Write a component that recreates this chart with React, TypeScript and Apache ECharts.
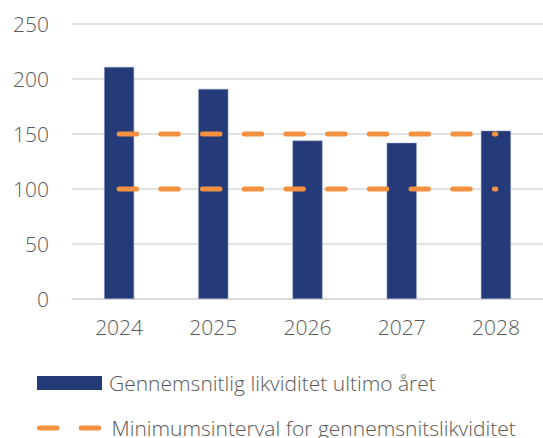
import React, { useEffect, useRef } from "react";
import * as echarts from "echarts";

const categories = ["2024", "2025", "2026", "2027", "2028"];
const barValues = [211, 191, 144, 142, 153];
const upperMinimum = [150, 150, 150, 150, 150];
const lowerMinimum = [100, 100, 100, 100, 100];
const barName = "Gennemsnitlig likviditet ultimo året";
const lineName = "Minimumsinterval for gennemsnitslikviditet";

const FONT = "'Open Sans', sans-serif";
const TEXT_COLOR = "#595959";
const BAR_COLOR = "#253A78";
const LINE_COLOR = "#F39141";

export default function App() {
  const ref = useRef<HTMLDivElement>(null);
  useEffect(() => {
    if (!ref.current) return;
    const chart = echarts.init(ref.current, undefined, { renderer: "svg" });
    const lineStyle = {
      color: LINE_COLOR,
      width: 5,
      type: [17.5, 24.2] as any,
      cap: "round" as const,
    };
    const legendText = {
      fontFamily: FONT,
      fontSize: 21,
      fontWeight: 300,
      color: TEXT_COLOR,
      lineHeight: 24,
      padding: [0, 0, 0, 2],
    };
    chart.setOption({
      animation: false,
      grid: { left: 72, right: -3.5, top: 24, bottom: 139, containLabel: false },
      legend: [
        {
          orient: "vertical",
          left: 37,
          top: 371,
          padding: 0,
          itemWidth: 65,
          itemHeight: 14,
          textStyle: legendText,
          data: [{ name: barName, icon: "rect", itemStyle: { borderWidth: 0 } }],
        },
        {
          orient: "vertical",
          left: 37,
          top: 416,
          padding: 0,
          itemWidth: 65,
          itemHeight: 14,
          textStyle: legendText,
          lineStyle: { width: 5, color: LINE_COLOR, type: [17.5, 24.2], cap: "round" },
          data: [{ name: lineName, itemStyle: { opacity: 0 } }],
        },
      ],
      xAxis: {
        type: "category",
        data: categories,
        axisLine: { show: true, lineStyle: { color: "#D9D9D9", width: 1.5 } },
        axisTick: { show: false },
        axisLabel: { fontFamily: FONT, fontSize: 21, fontWeight: 300, color: TEXT_COLOR, margin: 17 },
      },
      yAxis: {
        type: "value",
        min: 0,
        max: 250,
        interval: 50,
        axisLine: { show: false },
        axisTick: { show: false },
        splitLine: { lineStyle: { color: "#D9D9D9", width: 1.5 } },
        axisLabel: { fontFamily: FONT, fontSize: 21, fontWeight: 300, color: TEXT_COLOR, margin: 23 },
      },
      series: [
        {
          name: barName,
          type: "bar",
          data: barValues,
          barWidth: 30,
          itemStyle: { color: BAR_COLOR, borderColor: "#8FA0C8", borderWidth: 0.5 },
        },
        {
          name: lineName,
          type: "line",
          data: upperMinimum,
          symbol: "none",
          lineStyle,
          itemStyle: { color: LINE_COLOR },
          z: 3,
        },
        {
          name: lineName,
          type: "line",
          data: lowerMinimum,
          symbol: "none",
          lineStyle,
          itemStyle: { color: LINE_COLOR },
          z: 3,
        },
      ],
    });
    return () => chart.dispose();
  }, []);
  return <div ref={ref} style={{ width: 543, height: 438, position: "absolute", left: 0, top: 0 }} />;
}
